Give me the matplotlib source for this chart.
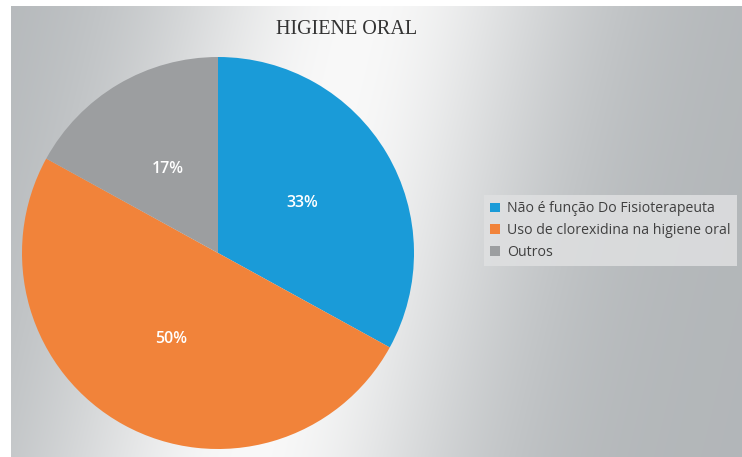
import numpy as np
import matplotlib.pyplot as plt

labels = ['Não é função Do Fisioterapeuta', 'Uso de clorexidina na higiene oral', 'Outros']
values = [33, 50, 17]
colors = ['#1a9bd8', '#f1833a', '#9c9ea0']

W, H = 742, 457
fig = plt.figure(figsize=(W / 100, H / 100), dpi=100, facecolor='white')

# diagonal gray-white-gray gradient background
bg = fig.add_axes([11 / W, 0, (W - 11) / W, (H - 6) / H])
bg.set_axis_off()
xx, yy = np.meshgrid(np.arange(11, W), np.arange(6, H))
u = xx + 0.244 * yy
shade = np.exp(-((u - 362) / 210) ** 2)
gray = np.array([0.70, 0.715, 0.725])
white = np.array([0.975, 0.975, 0.975])
img = gray + (white - gray) * shade[..., None]
bg.imshow(img, aspect='auto', interpolation='bilinear')

cx, cy, r = 218, H - 253, 196
ax = fig.add_axes([(cx - r) / W, (cy - r) / H, 2 * r / W, 2 * r / H])
wedges, texts, autotexts = ax.pie(values, colors=colors, startangle=90, counterclock=False,
                                  autopct='%1.0f%%', pctdistance=0.5, radius=1,
                                  wedgeprops={'linewidth': 0},
                                  textprops={'color': 'white', 'fontsize': 11.5,
                                             'fontweight': 'semibold', 'family': 'Open Sans'})
ax.set_xlim(-1, 1)
ax.set_ylim(-1, 1)

fig.text(347 / W, 1 - 29 / H, 'HIGIENE ORAL', ha='center', va='center',
         family='Liberation Serif', fontsize=14.5, color='#333333')

leg = fig.legend(wedges, labels, loc='upper left', bbox_to_anchor=(477 / W, 1 - 188 / H),
                 frameon=True, fancybox=False, handlelength=0.7, handleheight=0.7,
                 handletextpad=0.45, labelspacing=0.48, borderpad=0.45,
                 prop={'family': 'Open Sans', 'size': 10.2})
leg.get_frame().set_facecolor('#dfe0e1')
leg.get_frame().set_edgecolor('none')
leg.get_frame().set_alpha(0.85)
for t in leg.get_texts():
    t.set_color('#404040')

fig.savefig('out.png', dpi=100, facecolor='white')
